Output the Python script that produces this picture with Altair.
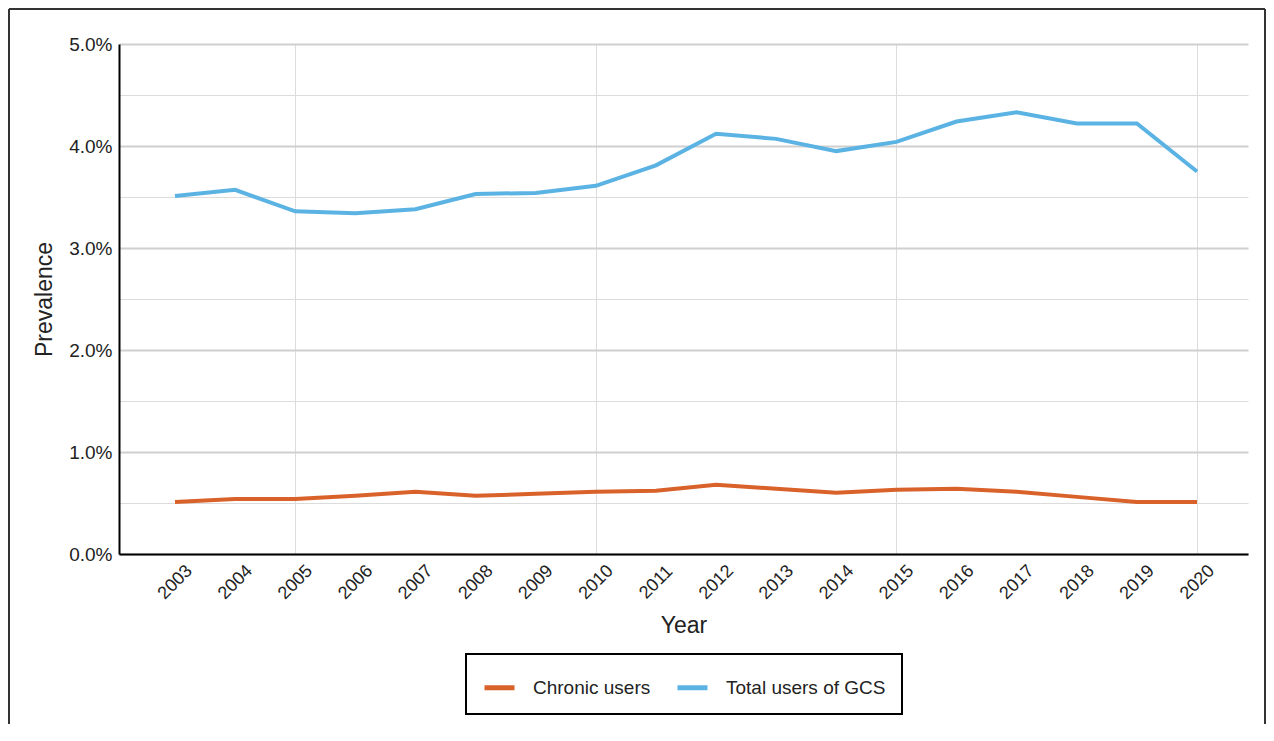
import altair as alt
import pandas as pd

years = list(range(2003, 2021))
total_users = [3.51, 3.57, 3.36, 3.34, 3.38, 3.53, 3.54, 3.61, 3.81, 4.12,
               4.07, 3.95, 4.04, 4.24, 4.33, 4.22, 4.22, 3.75]
chronic_users = [0.51, 0.54, 0.54, 0.57, 0.61, 0.57, 0.59, 0.61, 0.62, 0.68,
                 0.64, 0.60, 0.63, 0.64, 0.61, 0.56, 0.51, 0.51]
series_names = ["Chronic users", "Total users of GCS"]
series_colors = ["#d9622b", "#5bb3e4"]
y_ticks = [i * 0.5 for i in range(11)]

rows = []
for yr, c, t in zip(years, chronic_users, total_users):
    rows.append({"Year": yr, "Series": series_names[0], "Value": c})
    rows.append({"Year": yr, "Series": series_names[1], "Value": t})
df = pd.DataFrame(rows)

FONT = "Liberation Sans"

lines = alt.Chart(df).mark_line(strokeWidth=4, clip=False).encode(
    x=alt.X("Year:Q",
            scale=alt.Scale(domain=[2002.069, 2020.848], nice=False, zero=False),
            axis=alt.Axis(values=years, format="d", title="Year",
                          labelAngle=-45, labelAlign="center", labelBaseline="middle",
                          labelPadding=28, ticks=False,
                          grid=True, gridColor="#dcdcdc", gridWidth=1,
                          gridOpacity={"condition": {"test": "datum.value % 5 === 0", "value": 1}, "value": 0},
                          domainColor="#000000", domainWidth=2,
                          labelFontSize=18, labelColor="#222222", labelFont=FONT,
                          titleFontSize=23, titleFontWeight="normal", titleColor="#222222",
                          titleFont=FONT, titlePadding=12)),
    y=alt.Y("Value:Q",
            scale=alt.Scale(domain=[0, 5], nice=False),
            axis=alt.Axis(values=y_ticks, title="Prevalence",
                          labelExpr="datum.value % 1 === 0 ? format(datum.value, '.1f') + '%' : ''",
                          ticks=False, labelPadding=7,
                          grid=True,
                          gridColor={"condition": {"test": "datum.value % 1 === 0", "value": "#cfcfcf"}, "value": "#dcdcdc"},
                          gridWidth={"condition": {"test": "datum.value % 1 === 0", "value": 2}, "value": 1},
                          domainColor="#000000", domainWidth=2,
                          labelFontSize=19, labelColor="#222222", labelFont=FONT,
                          titleFontSize=23, titleFontWeight="normal", titleColor="#222222",
                          titleFont=FONT, titlePadding=12)),
    color=alt.Color("Series:N",
                    scale=alt.Scale(domain=series_names, range=series_colors),
                    legend=alt.Legend(title=None, orient="none", legendX=347, legendY=610,
                                      direction="horizontal",
                                      symbolType="stroke", symbolSize=900, symbolStrokeWidth=5,
                                      labelFontSize=19, labelFont=FONT, labelColor="#222222",
                                      labelOffset=16, columnPadding=16,
                                      strokeColor="#000000", padding=16)),
)

border_left = alt.Chart().mark_rule(color="#333333", strokeWidth=2).encode(
    x=alt.value(-110), y=alt.value(-35), y2=alt.value(900))
border_top = alt.Chart().mark_rule(color="#333333", strokeWidth=2).encode(
    x=alt.value(-110), x2=alt.value(1146), y=alt.value(-35))
border_right = alt.Chart().mark_rule(color="#333333", strokeWidth=2).encode(
    x=alt.value(1146), y=alt.value(-35), y2=alt.value(900))

chart = alt.layer(lines, border_left, border_top, border_right).properties(
    width=1129, height=510,
    autosize=alt.AutoSizeParams(type="none"),
    padding={"left": 111, "top": 36, "right": 18, "bottom": 170},
).configure_view(stroke=None).configure_legend(strokeWidth=2)

chart.save("out.html", embed_options={"renderer": "svg", "actions": False})
